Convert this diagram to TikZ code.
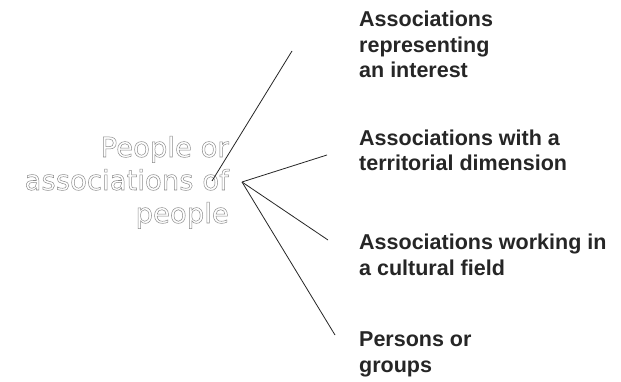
\documentclass[tikz,border=0pt]{standalone}
\usepackage{fontspec}
\setmainfont{Liberation Sans}
\newfontfamily\rootfont{DejaVu Sans}
\newcommand\outlineon{\special{pdf:literal direct 1 Tr 0.5 w}}
\newcommand\outlineoff{\special{pdf:literal direct 0 Tr}}
\begin{document}
\begin{tikzpicture}[x=1pt,y=-1pt,
  leaf/.style={anchor=base west, align=left, inner sep=0pt,
    font=\bfseries\fontsize{21.5}{25.5}\selectfont, text=black!85},
  rootnode/.style={anchor=base east, align=right, inner sep=0pt,
    font=\rootfont\fontsize{27.5}{33}\selectfont, text=black!45},
  conn/.style={line width=0.8pt, draw=black!85}]
\useasboundingbox (0,0) rectangle (621,382);
\fill[white] (0,0) rectangle (621,382);
% left text (base anchor = last line)
\node[rootnode] (root) at (229,223) {\outlineon People or\\\outlineon associations of\\\outlineon people\outlineoff};
% leaves (base anchor = last line)
\node[leaf] (l1) at (359,78) {Associations\\representing\\an interest};
\node[leaf] (l2) at (359,171) {Associations with a\\territorial dimension};
\node[leaf] (l3) at (359,275) {Associations working in\\a cultural field};
\node[leaf] (l4) at (359,372) {Persons or\\groups};
% connector ends
\coordinate (hub) at (242,182);
\coordinate (s1) at (212,181);
\coordinate (e1) at (292,51);
\coordinate (e2) at (327,155);
\coordinate (e3) at (328,240);
\coordinate (e4) at (335,335);
\draw[conn] (s1) -- (e1);
\draw[conn] (hub) -- (e2);
\draw[conn] (hub) -- (e3);
\draw[conn] (hub) -- (e4);
\end{tikzpicture}
\end{document}
